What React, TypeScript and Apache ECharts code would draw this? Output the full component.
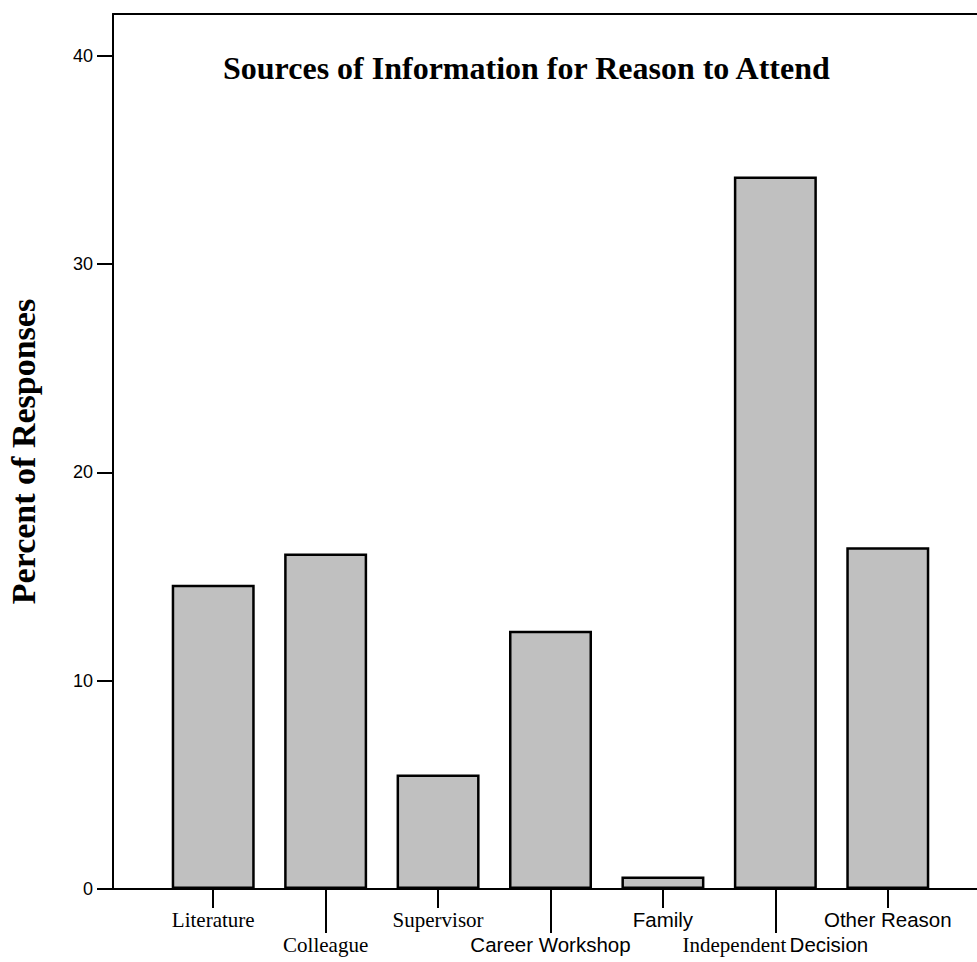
import React, { useEffect, useRef } from "react";
import * as echarts from "echarts";

const categories = [
  "Literature",
  "Colleague",
  "Supervisor",
  "Career Workshop",
  "Family",
  "Independent Decision",
  "Other Reason",
];
const percentValues = [14.6, 16.1, 5.5, 12.4, 0.6, 34.2, 16.4];
const yTicks = [0, 10, 20, 30, 40];
const titleText = "Sources of Information for Reason to Attend";
const yName = "Percent of Responses";

const SERIF = "'Liberation Serif', 'Times New Roman', serif";
const SANS = "'Liberation Sans', Arial, sans-serif";
const sansLabels = ["Career Workshop", "Family", "Other Reason"];

function fmtLabel(v: string) {
  if (v === "Independent Decision") return "{s|Independent} {a|Decision}";
  if (sansLabels.indexOf(v) >= 0) return "{a|" + v + "}";
  return "{s|" + v + "}";
}

const labelRich = {
  s: { fontFamily: SERIF, fontSize: 21, color: "#000" },
  a: { fontFamily: SANS, fontSize: 20.5, color: "#000" },
};

export default function App() {
  const ref = useRef<HTMLDivElement>(null);
  useEffect(() => {
    if (!ref.current) return;
    const chart = echarts.init(ref.current, null, { renderer: "svg" });
    const yMax = 42;
    chart.setOption({
      animation: false,
      backgroundColor: "#ffffff",
      title: {
        text: titleText,
        left: 223,
        top: 52,
        padding: 0,
        textStyle: { fontFamily: SERIF, fontSize: 32, fontWeight: "bold", color: "#000" },
      },
      grid: [
        { left: 113, right: 0, top: 14, bottom: 73, outerBoundsMode: "none", containLabel: false },
        { left: 157, right: 33, top: 14, bottom: 73, outerBoundsMode: "none", containLabel: false },
      ],
      xAxis: [
        {
          type: "value",
          gridIndex: 0,
          min: 0,
          max: 1,
          position: "bottom",
          axisLine: { show: true, lineStyle: { color: "#000", width: 2 } },
          axisTick: { show: false },
          axisLabel: { show: false },
          splitLine: { show: false },
        },
        {
          type: "value",
          gridIndex: 0,
          min: 0,
          max: 1,
          position: "top",
          axisLine: { show: true, lineStyle: { color: "#000", width: 2 } },
          axisTick: { show: false },
          axisLabel: { show: false },
          splitLine: { show: false },
        },
        {
          type: "category",
          gridIndex: 1,
          data: categories,
          position: "bottom",
          axisLine: { show: false },
          axisTick: {
            show: true,
            alignWithLabel: true,
            length: 19,
            interval: (i: number) => i % 2 === 0,
            lineStyle: { color: "#000", width: 2 },
          },
          axisLabel: {
            interval: (i: number) => i % 2 === 0,
            margin: 20,
            formatter: fmtLabel,
            rich: labelRich,
          },
        },
        {
          type: "category",
          gridIndex: 1,
          data: categories,
          position: "bottom",
          axisLine: { show: false },
          axisTick: {
            show: true,
            alignWithLabel: true,
            length: 44,
            interval: (i: number) => i % 2 === 1,
            lineStyle: { color: "#000", width: 2 },
          },
          axisLabel: {
            interval: (i: number) => i % 2 === 1,
            margin: 45,
            formatter: fmtLabel,
            rich: labelRich,
          },
        },
      ],
      yAxis: [
        {
          type: "value",
          gridIndex: 0,
          min: 0,
          max: yMax,
          interval: 10,
          name: yName,
          nameLocation: "middle",
          nameRotate: 90,
          nameGap: 73,
          nameTextStyle: { fontFamily: SERIF, fontSize: 34, fontWeight: "bold", color: "#000" },
          axisLine: { show: true, onZero: false, lineStyle: { color: "#000", width: 2 } },
          axisTick: { show: true, length: 16, customValues: yTicks, lineStyle: { color: "#000", width: 2 } },
          axisLabel: {
            margin: 20,
            fontFamily: SANS,
            fontSize: 18,
            color: "#000",
            customValues: yTicks,
            formatter: (v: number) => (yTicks.indexOf(v) >= 0 ? String(v) : ""),
          },
          splitLine: { show: false },
        },
        {
          type: "value",
          gridIndex: 1,
          min: 0,
          max: yMax,
          show: false,
        },
      ],
      series: [
        {
          type: "bar",
          xAxisIndex: 2,
          yAxisIndex: 1,
          data: percentValues,
          barWidth: 83,
          itemStyle: { color: "#c0c0c0", borderColor: "#000", borderWidth: 2.5 },
        },
      ],
    });
    return () => chart.dispose();
  }, []);
  return <div ref={ref} style={{ width: 977, height: 962, position: "absolute", left: 0, top: 0 }} />;
}
